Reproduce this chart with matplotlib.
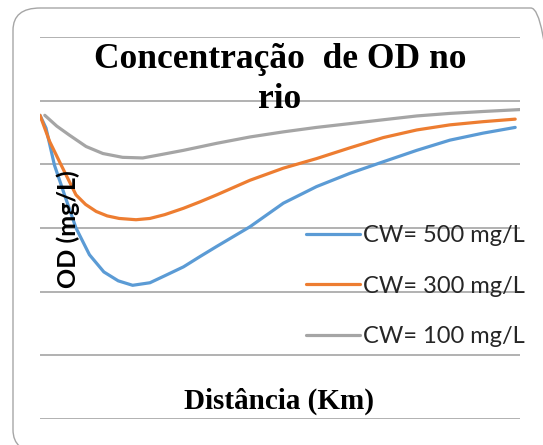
import numpy as np
import matplotlib
matplotlib.use("Agg")
import matplotlib.pyplot as plt
from matplotlib.patches import FancyBboxPatch

# Distância (km) e OD (mg/L)
dist_500 = [0, 1.25, 3, 5.2, 7.5, 10.3, 13.3, 16.3, 19.3, 22.9, 26, 29.9, 33.3, 36.8,
            43.75, 50.7, 57.6, 64.6, 71.5, 78.5, 85.4, 92.3, 99]
od_500 = [4.77, 4.57, 3.99, 3.50, 3.00, 2.58, 2.31, 2.17, 2.10, 2.14, 2.25, 2.39, 2.55,
          2.71, 3.02, 3.39, 3.65, 3.86, 4.04, 4.22, 4.38, 4.49, 4.58]

dist_300 = [0, 2, 4.4, 7.5, 9.5, 11.7, 14, 16.5, 20, 22.9, 26, 29.9, 33.3, 36.8,
            43.75, 50.7, 57.6, 64.6, 71.5, 78.5, 85.4, 92.3, 99]
od_300 = [4.77, 4.36, 3.99, 3.52, 3.37, 3.26, 3.19, 3.15, 3.13, 3.15, 3.21, 3.31, 3.41,
          3.52, 3.75, 3.94, 4.09, 4.26, 4.42, 4.54, 4.62, 4.67, 4.71]

dist_100 = [1, 3.5, 6.1, 9.6, 13.1, 17.2, 21.4, 25, 29.9, 36.8, 43.75, 50.7, 57.6,
            64.6, 71.5, 78.5, 85.4, 92.3, 100]
od_100 = [4.77, 4.60, 4.46, 4.28, 4.17, 4.11, 4.10, 4.15, 4.22, 4.33, 4.43, 4.51,
          4.58, 4.64, 4.70, 4.76, 4.80, 4.83, 4.86]

labels = ["CW= 500 mg/L", "CW= 300 mg/L", "CW= 100 mg/L"]
colors = ["#5B9BD5", "#ED7D31", "#A5A5A5"]

W, H = 543, 445
fig = plt.figure(figsize=(W / 100, H / 100), dpi=100, facecolor="white")

# moldura arredondada
box = FancyBboxPatch((13 / W, 1 - 452 / H), 545 / W, 444 / H,
                     boxstyle="round,pad=0,rounding_size=0.05",
                     transform=fig.transFigure, facecolor="none",
                     edgecolor="#A6A6A6", linewidth=1.0, zorder=-1)
fig.patches.append(box)

ax = fig.add_axes([40 / W, 1 - 419 / H, 480 / W, 382 / H])
ax.set_facecolor("none")
ax.set_xlim(0, 100)
ax.set_ylim(0, 6)
ax.set_yticks(np.arange(0, 7, 1))
ax.set_xticks([])
ax.tick_params(left=False, labelleft=False)
for s in ax.spines.values():
    s.set_visible(False)
ax.grid(axis="y", color="#ABABAB", linewidth=1.3)

for d, od, c, lab in zip([dist_500, dist_300, dist_100], [od_500, od_300, od_100], colors, labels):
    ax.plot(d, od, color=c, lw=2.3, label=lab, solid_capstyle="round", solid_joinstyle="round")

fig.text(280 / W, 1 - 79 / H, "Concentração  de OD no\nrio", ha="center", va="center",
         family="Liberation Serif", fontweight="bold", fontsize=25.5, linespacing=1.28)
fig.text(279 / W, 1 - 401 / H, "Distância (Km)", ha="center", va="center",
         family="Liberation Serif", fontweight="bold", fontsize=21)
fig.text(68 / W, 1 - 229 / H, "OD (mg/L)", ha="center", va="center", rotation=90,
         family="Lato", fontweight="bold", fontsize=18)

leg = ax.legend(loc="upper left", bbox_to_anchor=(306 / W, 1 - 225 / H),
                bbox_transform=fig.transFigure, frameon=False,
                prop={"family": "Lato", "size": 17}, handlelength=2.3,
                handletextpad=0.13, labelspacing=1.25, borderpad=0, borderaxespad=0)
for t in leg.get_texts():
    t.set_color("#262626")

fig.savefig("out.png", dpi=100)
